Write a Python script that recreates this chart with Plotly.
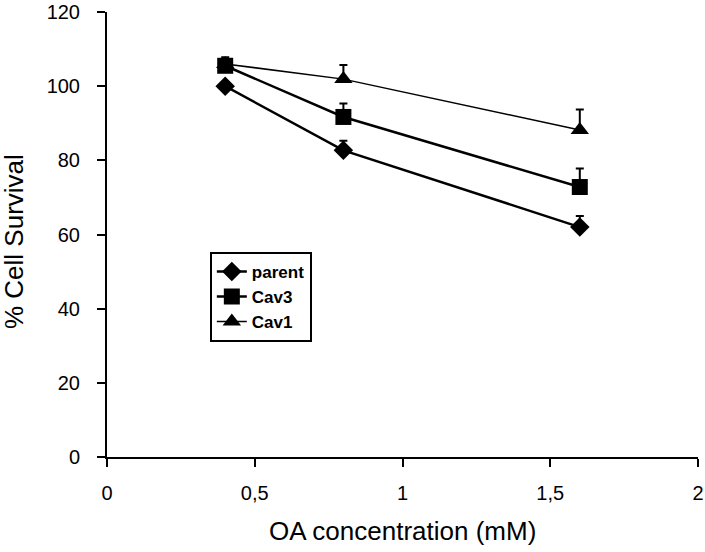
import plotly.graph_objects as go

conc = [0.4, 0.8, 1.6]
parent = [100.0, 82.7, 62.0]
parent_err = [0.0, 2.6, 3.0]
cav3 = [105.5, 91.7, 72.8]
cav3_err = [1.0, 3.6, 5.0]
cav1 = [106.0, 101.9, 88.2]
cav1_err = [1.8, 3.8, 5.5]

x_ticks = [0, 0.5, 1, 1.5, 2]
y_ticks = [0, 20, 40, 60, 80, 100, 120]

fig = go.Figure()

def add(name, y, err, symbol, size, width):
    fig.add_trace(go.Scatter(
        x=conc, y=y, name=name, mode="lines+markers",
        line=dict(color="black", width=width),
        marker=dict(symbol=symbol, size=size, color="black"),
        error_y=dict(type="data", array=err, symmetric=False, arrayminus=[0]*len(err),
                     color="black", thickness=2, width=4),
    ))

add("parent", parent, parent_err, "diamond", 15, 2.5)
add("Cav3", cav3, cav3_err, "square", 16, 2.5)
add("Cav1", cav1, cav1_err, "triangle-up", 16, 1.5)

fig.update_layout(
    width=705, height=552,
    margin=dict(l=107, r=7, t=12, b=95),
    paper_bgcolor="white", plot_bgcolor="white",
    separators=",.",
    font=dict(family="Liberation Sans, Arial, sans-serif", color="black"),
    showlegend=True,
    legend=dict(x=0.174, y=0.461, xanchor="left", yanchor="top",
                bordercolor="black", borderwidth=2, bgcolor="white",
                font=dict(size=17, family="Liberation Sans, Arial, sans-serif", weight="bold"),
                tracegroupgap=0, itemwidth=30),
    xaxis=dict(range=[0, 2], tickvals=x_ticks, showgrid=False, zeroline=False,
               showline=True, linecolor="black", linewidth=2,
               ticks="outside", ticklen=8, tickwidth=2, tickcolor="black",
               tickfont=dict(size=20), ticklabelstandoff=9,
               automargin=False, ticklabeloverflow="allow"),
    yaxis=dict(range=[0, 120], tickvals=y_ticks, showgrid=False, zeroline=False,
               showline=True, linecolor="black", linewidth=2,
               ticks="outside", ticklen=8, tickwidth=2, tickcolor="black",
               tickfont=dict(size=20), ticklabelstandoff=13,
               automargin=False, ticklabeloverflow="allow"),
    annotations=[
        dict(text="OA concentration (mM)", showarrow=False,
             xref="paper", yref="paper", font=dict(size=26)),
        dict(text="% Cell Survival", textangle=-90, showarrow=False,
             xref="paper", yref="paper", font=dict(size=26)),
    ],
)

# place titles in pixel terms relative to plot area
pw, ph = 705 - 107 - 7, 552 - 12 - 95
fig.layout.annotations[0].update(x=(402 - 107) / pw, y=-(531 - 457) / ph,
                                 xanchor="center", yanchor="middle")
fig.layout.annotations[1].update(x=-(107 - 14) / pw, y=(457 - 242) / ph,
                                 xanchor="center", yanchor="middle")

fig.write_html("out.html", config={"displayModeBar": False},
               post_script="document.body.style.margin='0';document.body.style.padding='0';")
